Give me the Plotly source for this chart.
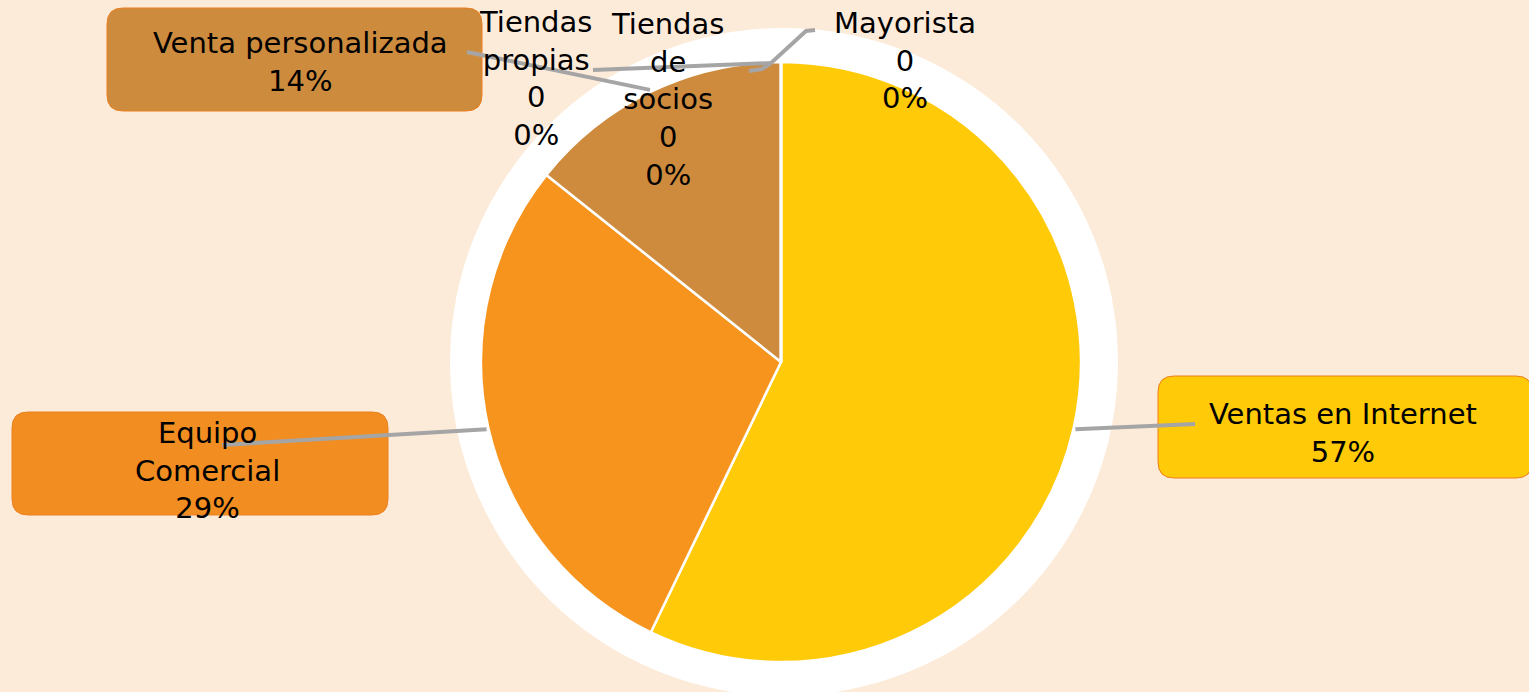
import numpy as np
import plotly.graph_objects as go

W, H = 1529, 692

# data
canales = ['Ventas en Internet', 'Equipo Comercial', 'Venta personalizada',
           'Tiendas propias', 'Tiendas de socios', 'Mayorista']
valores = [4, 2, 1, 0, 0, 0]
colores = ['#FFCA08', '#F7941E', '#CE8B3E', '#A5A5A5', '#4472C4', '#70AD47']
etiquetas = ['Ventas en Internet<br>57%', 'Equipo<br>Comercial<br>29%', 'Venta personalizada<br>14%',
             'Tiendas<br>propias<br>0<br>0%', 'Tiendas<br>de<br>socios<br>0<br>0%', 'Mayorista<br>0<br>0%']

BG = 'rgb(253,235,218)'
LINE_GRAY = '#A5A5A5'

# pie geometry (pixels)
CX, CY, R = 781, 362, 300


def px(x):
    return x / W


def py(y):
    return 1 - y / H


def slice_point(i, radius):
    total = sum(valores)
    frac = (sum(valores[:i]) + valores[i] / 2) / total
    ang = frac * 2 * np.pi
    return CX + radius * np.sin(ang), CY - radius * np.cos(ang)


def rounded_box(x0, y0, x1, y1, r=16):
    rx, ry = r / W, r / H
    X0, X1 = px(x0), px(x1)
    Y0, Y1 = py(y0), py(y1)  # Y0 top (larger), Y1 bottom
    return (f'M {X0 + rx},{Y0} L {X1 - rx},{Y0} Q {X1},{Y0} {X1},{Y0 - ry} '
            f'L {X1},{Y1 + ry} Q {X1},{Y1} {X1 - rx},{Y1} '
            f'L {X0 + rx},{Y1} Q {X0},{Y1} {X0},{Y1 + ry} '
            f'L {X0},{Y0 - ry} Q {X0},{Y0} {X0 + rx},{Y0} Z')


fig = go.Figure()

fig.add_trace(go.Pie(
    labels=canales,
    values=valores,
    sort=False,
    direction='clockwise',
    rotation=0,
    marker=dict(colors=colores, line=dict(color='white', width=2.5)),
    textinfo='none',
    hoverinfo='label+percent',
    showlegend=False,
    domain=dict(x=[px(CX - R), px(CX + R)], y=[py(CY + R), py(CY - R)])))

shapes = []

# white ring behind the pie
RC = 334
shapes.append(dict(type='circle', xref='paper', yref='paper', layer='below',
                   x0=px(784 - RC), x1=px(784 + RC), y0=py(362 + RC), y1=py(362 - RC),
                   fillcolor='white', line=dict(width=0)))

# label boxes
boxes = {
    0: ((1158, 376, 1532, 478), '#FFCA08'),
    1: ((12, 412, 388, 515), '#F18D21'),
    2: ((107, 8, 482, 111), '#CD8B3E'),
}
for i, ((x0, y0, x1, y1), c) in boxes.items():
    shapes.append(dict(type='path', xref='paper', yref='paper', layer='below',
                       path=rounded_box(x0, y0, x1, y1), fillcolor=c,
                       line=dict(color='#EC7F1E', width=1)))

# leader lines: label side points, then slice edge
leaders = {
    0: [(1195, 424)],
    1: [(222, 445)],
    2: [(467, 52)],
}
for i, pts in leaders.items():
    sx, sy = slice_point(i, R * 1.0 + 2)
    path_pts = pts + [(sx, sy)]
    d = 'M ' + ' L '.join(f'{px(x)},{py(y)}' for x, y in path_pts)
    shapes.append(dict(type='path', xref='paper', yref='paper', path=d,
                       line=dict(color=LINE_GRAY, width=4)))

# leaders of the empty slices (all sit at 12 o'clock)
extra = [
    [(593, 70), (772, 63)],
    [(815, 30), (806, 31), (770, 64), (762, 69), (749, 71)],
]
for pts in extra:
    d = 'M ' + ' L '.join(f'{px(x)},{py(y)}' for x, y in pts)
    shapes.append(dict(type='path', xref='paper', yref='paper', path=d,
                       line=dict(color=LINE_GRAY, width=4)))

# label text positions (pixels)
label_pos = [(1343, 433), (207, 470), (300, 62), (535, 79), (667, 99), (905, 60)]
annotations = []
for txt, (x, y) in zip(etiquetas, label_pos):
    annotations.append(dict(text=txt, x=px(x), y=py(y), xref='paper', yref='paper',
                            xanchor='center', yanchor='middle', showarrow=False,
                            align='center', font=dict(size=29, color='black')))

fig.update_layout(
    width=W, height=H,
    margin=dict(l=0, r=0, t=0, b=0),
    paper_bgcolor=BG,
    plot_bgcolor=BG,
    font=dict(family='DejaVu Sans'),
    shapes=shapes,
    annotations=annotations)

fig.write_html('out.html', config={'displayModeBar': False},
               post_script="document.body.style.margin='0';")
